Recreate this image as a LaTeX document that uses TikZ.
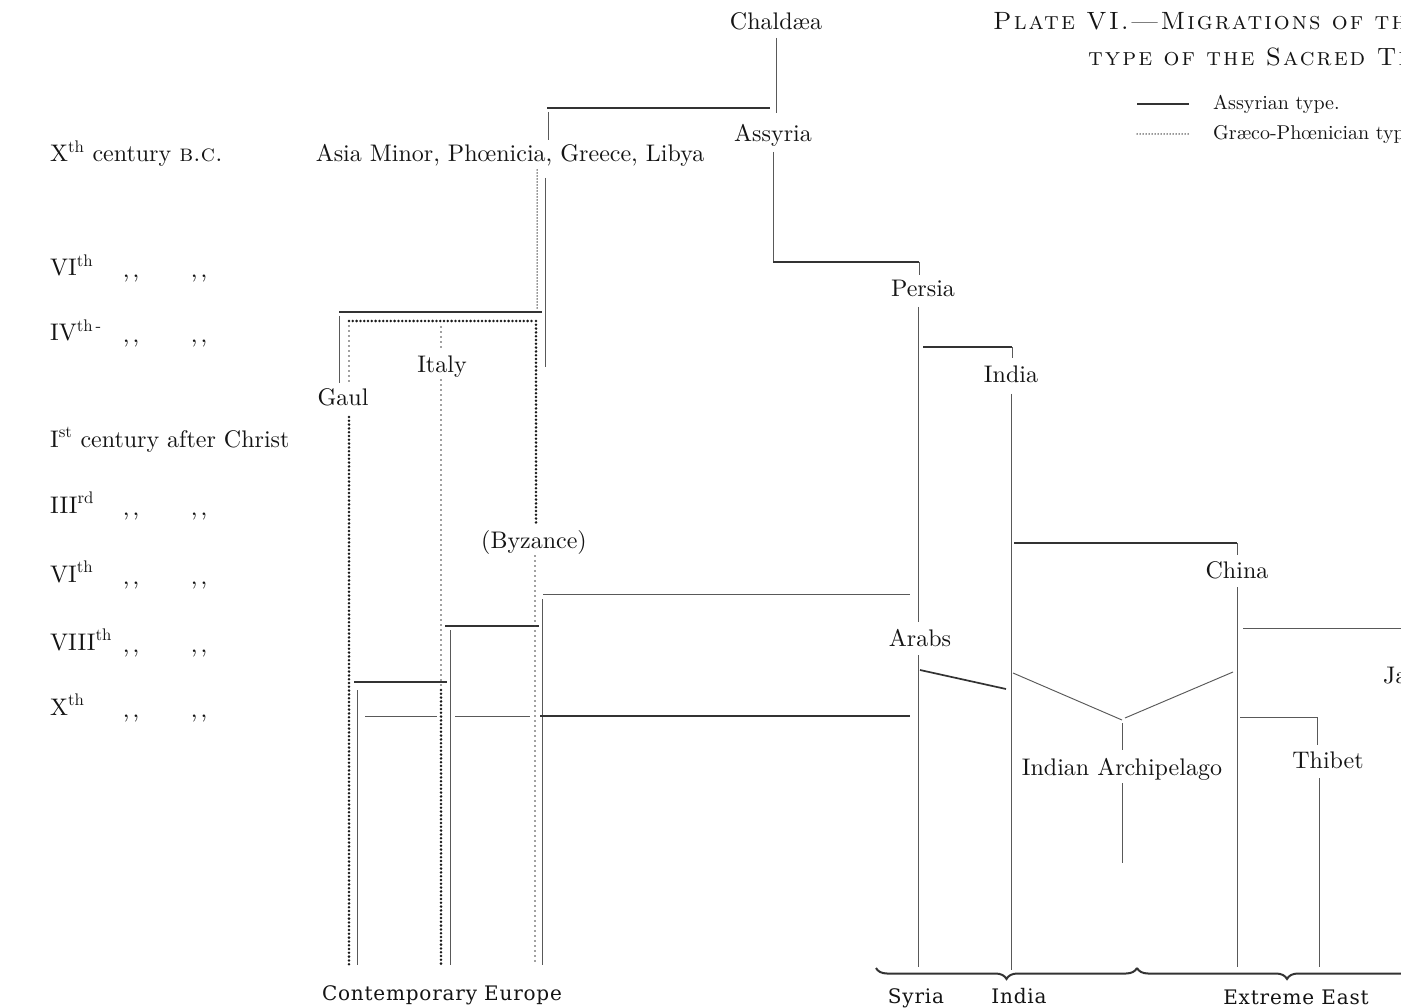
\documentclass[tikz,border=0pt]{standalone}
\usepackage{fontspec}
\setmainfont[SmallCapsFont=lmromancaps10-regular.otf]{lmroman10-regular.otf}
\newfontfamily\bottomfont[LetterSpace=4]{DejaVu Serif}
\newfontfamily\titlesc[LetterSpace=8]{lmromancaps10-regular.otf}
\usetikzlibrary{decorations.pathreplacing}
\tikzset{
  lbl/.style={inner sep=0pt, anchor=base, font=\fontsize{24}{28}\selectfont, text=black!92},
  era/.style={inner sep=0pt, anchor=base west, font=\fontsize{24}{28}\selectfont, text=black!92},
  ditto/.style={inner sep=0pt, anchor=base, font=\fontsize{24}{28}\selectfont, text=black!92},
  legtext/.style={inner sep=0pt, anchor=base west, font=\fontsize{20}{24}\selectfont, text=black!92},
  ttl/.style={inner sep=0pt, anchor=base west, font=\titlesc\fontsize{25}{29}\selectfont, text=black!92},
  btm/.style={inner sep=0pt, anchor=base, font=\bottomfont\fontsize{20}{24}\selectfont, text=black!92},
  sline/.style={draw=black!65, line width=0.95pt},
  hline/.style={draw=black!80, line width=1.7pt},
  ddot/.style={draw=black!90, line width=2.8pt, line cap=round, dash pattern=on 0pt off 3.8pt},
  sdot/.style={draw=black!75, line width=1.6pt, line cap=round, dash pattern=on 0pt off 5pt},
  fdot/.style={draw=black!85, line width=1.5pt, line cap=round, dash pattern=on 0pt off 3pt},
  bracestyle/.style={draw=black!80, line width=2pt, decorate,
     decoration={brace, mirror, amplitude=11pt}},
}
\newcommand{\dit}{,\kern3pt,}
\begin{document}
\begin{tikzpicture}[x=1pt, y=-1pt]
\useasboundingbox (0,0) rectangle (1401,1008);
\clip (0,0) rectangle (1401,1008);

% ---------- title and legend ----------
\node[ttl] (title1) at (993,30) {Plate VI.—Migrations of the Assyrian};
\node[ttl] (title2) at (1088,66) {type of the Sacred Tree.};
\coordinate (g1) at (1137,104); \coordinate (g2) at (1189,104);
\coordinate (g3) at (1137,134); \coordinate (g4) at (1189,134);
\draw[hline, line width=1.4pt] (g1) -- (g2);
\draw[fdot] (g3) -- (g4);
\node[legtext] (leg1) at (1213,110) {Assyrian type.};
\node[legtext] (leg2) at (1213,140) {Græco-Phœnician type.};

% ---------- era column ----------
\node[era] (e1) at (50,162) {X\textsuperscript{th} century \textsc{b.c.}};
\node[era] (e2) at (50,276) {VI\textsuperscript{th}};
\node[ditto] (d2a) at (131,278) {\dit}; \node[ditto] (d2b) at (199,278) {\dit};
\node[era] (e3) at (50,341) {IV\textsuperscript{th\,-}};
\node[ditto] (d3a) at (131,343) {\dit}; \node[ditto] (d3b) at (199,343) {\dit};
\node[era] (e4) at (50,447) {I\textsuperscript{st} century after Christ};
\node[era] (e5) at (50,513) {III\textsuperscript{rd}};
\node[ditto] (d5a) at (131,515) {\dit}; \node[ditto] (d5b) at (199,515) {\dit};
\node[era] (e6) at (50,582) {VI\textsuperscript{th}};
\node[ditto] (d6a) at (131,584) {\dit}; \node[ditto] (d6b) at (199,584) {\dit};
\node[era] (e7) at (50,650) {VIII\textsuperscript{th}};
\node[ditto] (d7a) at (131,652) {\dit}; \node[ditto] (d7b) at (199,652) {\dit};
\node[era] (e8) at (50,715) {X\textsuperscript{th}};
\node[ditto] (d8a) at (131,717) {\dit}; \node[ditto] (d8b) at (199,717) {\dit};

% ---------- places ----------
\node[lbl] (chaldaea) at (776,30) {Chaldæa};
\node[lbl] (assyria) at (773,142) {Assyria};
\node[lbl] (asia) at (510,162) {Asia Minor, Phœnicia, Greece, Libya};
\node[lbl] (persia) at (923,297) {Persia};
\node[lbl] (india) at (1011,382) {India};
\node[lbl] (italy) at (442,373) {Italy};
\node[lbl] (gaul) at (343,406) {Gaul};
\node[lbl] (byzance) at (534,548) {(Byzance)};
\node[lbl] (china) at (1237,578) {China};
\node[lbl] (arabs) at (920,646) {Arabs};
\node[lbl, anchor=base west] (japan) at (1383,683) {Japan};
\node[lbl] (archipelago) at (1122,775) {Indian Archipelago};
\node[lbl] (thibet) at (1328,768) {Thibet};

\node[btm] (europe) at (442,1000) {Contemporary Europe};
\node[btm] (syria) at (916,1003) {Syria};
\node[btm] (indiab) at (1019,1003) {India};
\node[btm] (east) at (1296,1004) {Extreme East};

% ---------- coordinates ----------
\coordinate (c1) at (776,38);  \coordinate (c2) at (776,113);
\coordinate (c3) at (547,108); \coordinate (c4) at (770,108);
\coordinate (c5) at (548,112); \coordinate (c6) at (548,140);
\coordinate (c7) at (773,152); \coordinate (c8) at (773,262);
\coordinate (c9) at (919,262); \coordinate (c10) at (919,275);
\coordinate (c11) at (918,307); \coordinate (c12) at (918,622);
\coordinate (c13) at (918,655); \coordinate (c14) at (918,967);
\coordinate (c15) at (923,347); \coordinate (c16) at (1012,347); \coordinate (c17) at (1012,358);
\coordinate (c18) at (1011,394); \coordinate (c19) at (1011,970);
\coordinate (c20) at (1014,543); \coordinate (c21) at (1237,543); \coordinate (c22) at (1237,555);
\coordinate (c23) at (1237,587); \coordinate (c24) at (1237,967);
\coordinate (c25) at (1243,628); \coordinate (c26) at (1401,628);
\coordinate (c27) at (920,670); \coordinate (c28) at (1006,689);
\coordinate (c29) at (1013,673); \coordinate (c30) at (1122,720);
\coordinate (c31) at (1233,672); \coordinate (c32) at (1125,718);
\coordinate (c33) at (1122,723); \coordinate (c34) at (1122,750);
\coordinate (c35) at (1122,783); \coordinate (c36) at (1122,863);
\coordinate (c37) at (1240,717); \coordinate (c38) at (1317,717); \coordinate (c39) at (1317,745);
\coordinate (c40) at (1319,778); \coordinate (c41) at (1319,967);

\coordinate (l1) at (545,178); \coordinate (l2) at (545,367);
\coordinate (l3) at (339,312); \coordinate (l4) at (542,312);
\coordinate (l5) at (339,316); \coordinate (l6) at (339,383);
\coordinate (l7) at (543,594); \coordinate (l8) at (910,594);
\coordinate (l9) at (542,599); \coordinate (l10) at (542,965);
\coordinate (l11) at (445,626); \coordinate (l12) at (539,626);
\coordinate (l13) at (450,630); \coordinate (l14) at (450,965);
\coordinate (l15) at (354,682); \coordinate (l16) at (447,682);
\coordinate (l17) at (357,690); \coordinate (l18) at (357,965);
\coordinate (l19) at (365,716); \coordinate (l20) at (437,716);
\coordinate (l21) at (455,716); \coordinate (l22) at (530,716);
\coordinate (l23) at (540,716); \coordinate (l24) at (910,716);

\coordinate (p1) at (537,170); \coordinate (p2) at (537,309);
\coordinate (p3) at (349,321); \coordinate (p4) at (533,321);
\coordinate (p5) at (349,326); \coordinate (p6) at (349,382);
\coordinate (p7) at (349,417); \coordinate (p8) at (349,965);
\coordinate (p9) at (441,327); \coordinate (p10) at (441,348);
\coordinate (p11) at (441,380); \coordinate (p12) at (441,686);
\coordinate (p13) at (441,690); \coordinate (p14) at (441,965);
\coordinate (p15) at (536,321); \coordinate (p16) at (536,523);
\coordinate (p17) at (535,556); \coordinate (p18) at (535,965);

\coordinate (b1) at (876,968); \coordinate (b2) at (1137,968);
\coordinate (b3) at (1137,968); \coordinate (b4) at (1437,968);

% ---------- Assyrian (solid) lines ----------
\draw[sline] (c1) -- (c2);
\draw[hline] (c3) -- (c4);
\draw[sline] (c5) -- (c6);
\draw[sline] (c7) -- (c8);
\draw[hline] (c8) -- (c9);
\draw[sline] (c9) -- (c10);
\draw[sline] (c11) -- (c12);
\draw[sline] (c13) -- (c14);
\draw[hline] (c15) -- (c16);
\draw[sline] (c16) -- (c17);
\draw[sline] (c18) -- (c19);
\draw[hline] (c20) -- (c21);
\draw[sline] (c21) -- (c22);
\draw[sline] (c23) -- (c24);
\draw[sline] (c25) -- (c26);
\draw[hline] (c27) -- (c28);
\draw[sline] (c29) -- (c30);
\draw[sline] (c31) -- (c32);
\draw[sline] (c33) -- (c34);
\draw[sline] (c35) -- (c36);
\draw[sline] (c37) -- (c38) -- (c39);
\draw[sline] (c40) -- (c41);

\draw[sline] (l1) -- (l2);
\draw[hline] (l3) -- (l4);
\draw[sline] (l5) -- (l6);
\draw[sline] (l7) -- (l8);
\draw[sline] (l9) -- (l10);
\draw[hline] (l11) -- (l12);
\draw[sline] (l13) -- (l14);
\draw[hline] (l15) -- (l16);
\draw[sline] (l17) -- (l18);
\draw[sline] (l19) -- (l20);
\draw[sline] (l21) -- (l22);
\draw[hline] (l23) -- (l24);

% ---------- Graeco-Phoenician (dotted) lines ----------
\draw[fdot] (p1) -- (p2);
\draw[ddot] (p3) -- (p4);
\draw[sdot] (p5) -- (p6);
\draw[ddot] (p7) -- (p8);
\draw[sdot] (p9) -- (p10);
\draw[sdot] (p11) -- (p12);
\draw[ddot] (p13) -- (p14);
\draw[ddot] (p15) -- (p16);
\draw[sdot] (p17) -- (p18);

% ---------- braces ----------
\draw[bracestyle] (b1) -- (b2);
\draw[bracestyle] (b3) -- (b4);
\end{tikzpicture}
\end{document}
